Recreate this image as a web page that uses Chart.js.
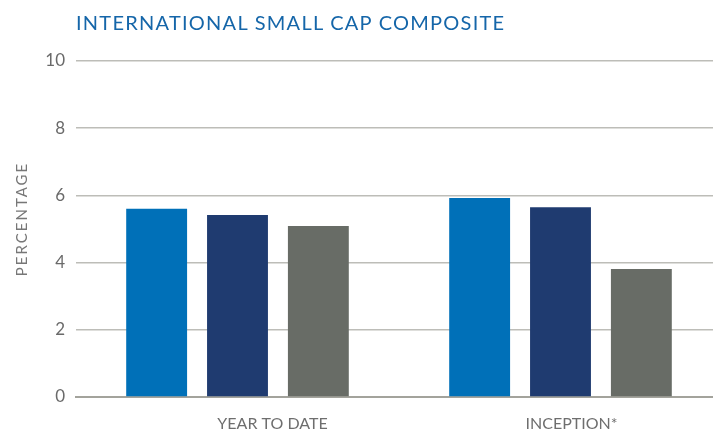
<!DOCTYPE html>
<html>
<head>
<meta charset="utf-8">
<script src="https://cdn.jsdelivr.net/npm/chart.js@4/dist/chart.umd.min.js"></script>
<style>
    html, body { margin: 0; padding: 0; background: #fff; overflow: hidden; }
    #wrap { position: relative; width: 722px; height: 431px; }
    #title {
        position: absolute; left: 76px; top: 10px;
        font-family: Lato, sans-serif; font-size: 20px; letter-spacing: 1.25px;
        color: #1566a9; white-space: nowrap;
    }
</style>
</head>
<body>
<div id="wrap">
    <div id="title">INTERNATIONAL SMALL CAP COMPOSITE</div>
    <canvas id="myChart" width="722" height="431"></canvas>
</div>
<script>
const periods = ['YEAR TO DATE', 'INCEPTION*'];
const grossReturn = [5.60, 5.92];
const netReturn = [5.42, 5.65];
const benchmark = [5.09, 3.81];
const yTicks = [0, 2, 4, 6, 8, 10];

// labels under each group sit a little right of the group centre
const labelShift = [35, 11];

const periodLabels = {
    id: 'periodLabels',
    afterDraw(chart) {
        const ctx = chart.ctx;
        const x = chart.scales.x;
        ctx.save();
        ctx.font = '16px Lato, sans-serif';
        ctx.fillStyle = '#6e6e6e';
        ctx.textAlign = 'center';
        ctx.textBaseline = 'middle';
        periods.forEach((p, i) => {
            ctx.fillText(p, x.getPixelForValue(i) + labelShift[i], 424);
        });
        // rotated axis name, spaced out
        ctx.translate(22, 220);
        ctx.rotate(-Math.PI / 2);
        ctx.letterSpacing = '2px';
        ctx.font = '15px Lato, sans-serif';
        ctx.fillStyle = '#777';
        ctx.fillText('PERCENTAGE', 1, 0);
        ctx.restore();
    }
};

const config = {
    type: 'bar',
    data: {
        labels: periods,
        datasets: [
            { label: 'Gross', data: grossReturn, backgroundColor: '#0070b8' },
            { label: 'Net', data: netReturn, backgroundColor: '#1f3b70' },
            { label: 'Benchmark', data: benchmark, backgroundColor: '#686c66' }
        ]
    },
    options: {
        responsive: false,
        animation: false,
        layout: { padding: { top: 61, left: 0, right: 0, bottom: 0 } },
        datasets: {
            bar: { categoryPercentage: 0.751, barPercentage: 0.753, borderWidth: 0 }
        },
        scales: {
            x: {
                afterFit: s => { s.height = 34; },
                grid: { display: false },
                border: { display: true, color: '#a3a39c', width: 2 },
                ticks: { display: false }
            },
            y: {
                min: 0,
                max: 10,
                afterFit: s => { s.width = 76; },
                afterBuildTicks: s => { s.ticks = yTicks.map(v => ({ value: v })); },
                border: { display: false },
                grid: {
                    drawTicks: false,
                    color: c => c.tick.value === 0 ? 'rgba(0,0,0,0)' : '#bdbdb8',
                    lineWidth: 1.5
                },
                ticks: {
                    padding: 11,
                    color: '#6a6a6a',
                    font: { family: 'Lato, sans-serif', size: 17 }
                }
            }
        },
        plugins: {
            legend: { display: false },
            tooltip: { enabled: false }
        }
    },
    plugins: [periodLabels]
};

const ctx = document.getElementById('myChart').getContext('2d');
window.myChart = new Chart(ctx, config);
</script>
</body>
</html>
